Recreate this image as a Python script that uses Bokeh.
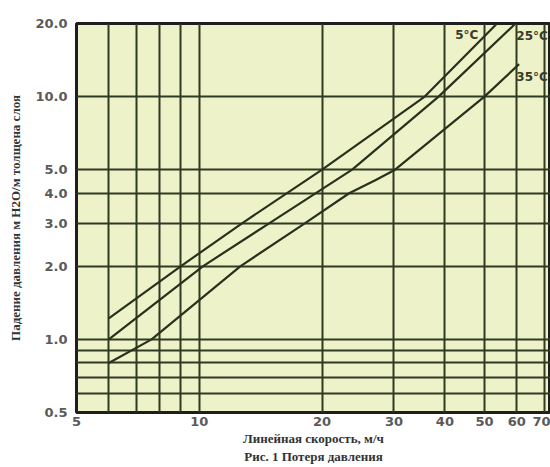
from bokeh.plotting import figure
from bokeh.models import FixedTicker, CustomJSTickFormatter, Label
from bokeh.embed import file_html
from bokeh.resources import INLINE

# Linear velocity (m/h) vs pressure drop (m H2O per m of bed), read at grid crossings
velocity_5 = [6, 9, 12.7, 20, 35.7, 53.7]
dp_5 = [1.22, 2.0, 3.0, 5.0, 10.0, 20.0]
velocity_25 = [6, 10.2, 14.8, 23.7, 38.6, 59.6]
dp_25 = [1.0, 2.0, 3.0, 5.0, 10.0, 20.0]
velocity_35 = [6, 7.64, 12.6, 18.1, 23.3, 27.0, 30.2, 50.0, 60.8]
dp_35 = [0.80, 1.0, 2.0, 3.0, 4.0, 4.52, 5.0, 10.0, 13.6]

series_labels = ["5°C", "25°C", "35°C"]
label_x = [48.3, 71.5, 71.5]
label_y = [17.85, 17.7, 12.0]

x_ticks = [5, 10, 20, 30, 40, 50, 60, 70]
x_minor = [6, 7, 8, 9]
y_ticks = [0.5, 1, 2, 3, 4, 5, 10, 20]
y_minor = [0.6, 0.7, 0.8, 0.9]

x_title = "Линейная скорость, м/ч"
caption = "Рис. 1 Потеря давления"
y_title = "Падение давления м H2O/м толщена слоя"

INK = "#28311d"
GRID = "#2f3a22"

p = figure(width=550, height=467, x_axis_type="log", y_axis_type="log",
           x_range=(5, 72.6), y_range=(0.5, 20), output_backend="svg",
           toolbar_location=None, min_border_left=76, min_border_right=0,
           min_border_top=23, min_border_bottom=55)
p.background_fill_color = "#eef2c8"
p.border_fill_color = "white"
p.outline_line_color = "#1e1e1e"
p.outline_line_width = 3

p.xaxis.ticker = FixedTicker(ticks=x_ticks, minor_ticks=x_minor)
p.yaxis.ticker = FixedTicker(ticks=y_ticks, minor_ticks=y_minor)
p.xaxis.formatter = CustomJSTickFormatter(code="return tick.toFixed(0)")
p.yaxis.formatter = CustomJSTickFormatter(code="return tick.toFixed(1)")

for ax in (p.xaxis, p.yaxis):
    ax.axis_line_color = None
    ax.major_tick_line_color = None
    ax.minor_tick_line_color = None
    ax.major_tick_out = 0
    ax.minor_tick_out = 0
    ax.major_tick_in = 0
    ax.minor_tick_in = 0
    ax.major_label_text_font = "DejaVu Sans"
    ax.major_label_text_font_style = "bold"
    ax.major_label_text_font_size = "13px"
    ax.major_label_text_color = "#5a5a5a"
    ax.axis_label_text_font = "Liberation Serif"
    ax.axis_label_text_font_style = "bold"
    ax.axis_label_text_font_size = "13px"
    ax.axis_label_text_color = "#333333"

p.xaxis.major_label_standoff = 4
p.yaxis.major_label_standoff = 9
p.xaxis.axis_label = x_title + "\n" + caption
p.yaxis.axis_label = y_title
p.xaxis.axis_label_standoff = 2
p.yaxis.axis_label_standoff = 9

for g in (p.xgrid, p.ygrid):
    g.grid_line_color = GRID
    g.grid_line_width = 2
    g.minor_grid_line_color = GRID
    g.minor_grid_line_width = 2

p.line(velocity_5, dp_5, line_color=INK, line_width=2.2)
p.line(velocity_25, dp_25, line_color=INK, line_width=2.2)
p.line(velocity_35, dp_35, line_color=INK, line_width=2.2)

for t, lx, ly in zip(series_labels, label_x, label_y):
    p.add_layout(Label(x=lx, y=ly, text=t, text_font="DejaVu Sans",
                       text_font_style="bold", text_font_size="12px",
                       text_color="#3a3a2a", text_align="right",
                       text_baseline="middle"))

open("out.html", "w").write(file_html(p, INLINE))
